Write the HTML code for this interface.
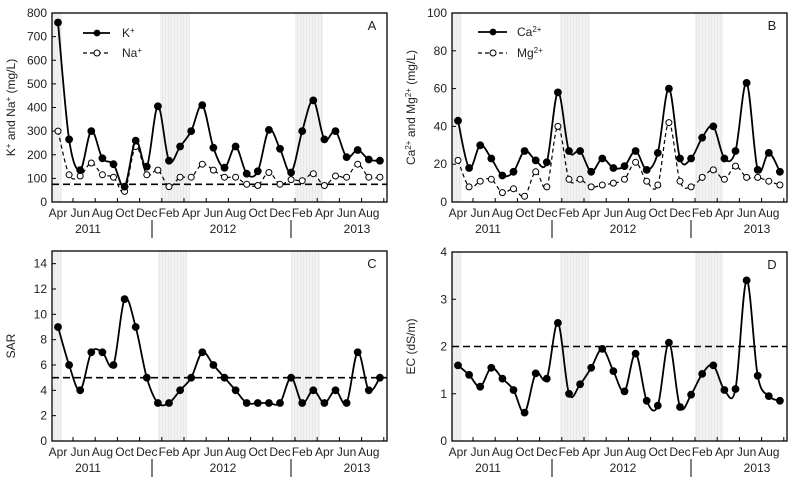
<!DOCTYPE html>
<html><head><meta charset="utf-8"><style>
html,body{margin:0;padding:0;background:#fff;}
svg{display:block;font-family:"Liberation Sans",Arial,sans-serif;}
</style></head><body>
<svg id="s" width="800" height="483" viewBox="0 0 800 483" xmlns="http://www.w3.org/2000/svg">
<defs>
<pattern id="st" width="3" height="10" patternUnits="userSpaceOnUse">
<rect width="3" height="10" fill="#f2f2f2"/><rect width="1" height="10" fill="#e8e8e8"/>
</pattern>
</defs>
</svg>
<script>
var s=document.getElementById('s');var h='';
function L(x1,y1,x2,y2,w,d){h+='<line x1="'+x1+'" y1="'+y1+'" x2="'+x2+'" y2="'+y2+'" stroke="#000" stroke-width="'+(w||1)+'"'+(d?' stroke-dasharray="'+d+'"':'')+'/>';}
function T(x,y,t,a,fs,extra){h+='<text x="'+x+'" y="'+y+'" font-size="'+(fs||12)+'" text-anchor="'+(a||'middle')+'" fill="#222" '+(extra||'')+'>'+t+'</text>';}
function cr(p){var d='M'+p[0][0]+','+p[0][1];for(var i=0;i<p.length-1;i++){var p0=p[i-1]||p[i],p1=p[i],p2=p[i+1],p3=p[i+2]||p2;var t=6;d+=' C'+(p1[0]+(p2[0]-p0[0])/t).toFixed(1)+','+(p1[1]+(p2[1]-p0[1])/t).toFixed(1)+' '+(p2[0]-(p3[0]-p1[0])/t).toFixed(1)+','+(p2[1]-(p3[1]-p1[1])/t).toFixed(1)+' '+p2[0]+','+p2[1];}return d;}
var months=['Apr','Jun','Aug','Oct','Dec','Feb','Apr','Jun','Aug','Oct','Dec','Feb','Apr','Jun','Aug'];
function panel(ox,top,bot,max,step,letter,ylab,series,bands,ref){
 var x0=ox+52,x1=ox+387;
 function Y(v){return bot-(v/max)*(bot-top);}
 function X(i){return ox+58+i*11.1;}
 bands.forEach(function(b){h+='<rect x="'+(ox+b[0])+'" y="'+top+'" width="'+(b[1]-b[0])+'" height="'+(bot-top)+'" fill="url(#st)"/>';});
 for(var v=0;v<=max+1e-9;v+=step){var y=Y(v);L(x0,y,x0+4,y);T(x0-5,y+4,+v.toFixed(0),'end',12);}
 for(var k=0;k<15;k++){var tx=ox+73+k*22.2;if(tx<x1)L(tx,bot,tx,bot-4);}
 months.forEach(function(m,k){T(ox+58+k*22.2,bot+15,m,'middle',12);});
 T(ox+88,bot+31,'2011');T(ox+223,bot+31,'2012');T(ox+357,bot+31,'2013');
 L(ox+152,bot+18,ox+152,bot+36);L(ox+291,bot+18,ox+291,bot+36);
 if(ref!=null)L(x0,Y(ref),x1,Y(ref),1.6,'7,4');
 series.forEach(function(se){var p=se.d.map(function(v,i){return [+X(i).toFixed(1),+Y(v).toFixed(1)];});
  h+='<path d="'+cr(p)+'" fill="none" stroke="#000" stroke-width="'+(se.open?1.2:1.8)+'"'+(se.open?' stroke-dasharray="4,3"':'')+'/>';
  p.forEach(function(q){h+='<circle cx="'+q[0]+'" cy="'+q[1]+'" r="'+(se.open?3:3.4)+'" fill="'+(se.open?'#fff':'#000')+'" stroke="#000" stroke-width="1"/>';});});
 h+='<rect x="'+x0+'" y="'+top+'" width="'+(x1-x0)+'" height="'+(bot-top)+'" fill="none" stroke="#000" stroke-width="1.3"/>';
 T(ox+372,top+17,letter,'middle',13);
 var cy=(top+bot)/2;h+='<text x="'+(ox+15)+'" y="'+cy+'" font-size="12" text-anchor="middle" fill="#222" transform="rotate(-90 '+(ox+15)+' '+cy+')">'+ylab+'</text>';
}
var K=[760,265,135,300,185,160,65,260,150,405,175,235,300,410,230,145,235,120,130,305,225,125,300,430,265,300,190,220,180,175];
var Na=[300,115,110,165,115,105,45,235,115,135,65,105,105,160,135,105,105,75,70,125,75,95,90,120,70,110,105,160,105,105];
var Ca=[43,18,30,23,14,16,27,22,21,58,27,27,16,23,18,19,27,17,26,60,23,23,34,40,23,27,63,17,26,16];
var Mg=[22,8,11,12,5,7,3,16,8,40,12,12,8,9,10,12,21,11,9,42,11,8,13,17,12,19,13,13,11,9];
var SAR=[9,6,4,7,7,6,11.2,9,5,3,3,4,5,7,6,5,4,3,3,3,3,5,3,4,3,4,3,7,4,5];
var EC=[1.6,1.4,1.15,1.55,1.32,1.08,0.6,1.43,1.32,2.5,1.0,1.2,1.55,1.95,1.48,1.05,1.85,0.85,0.75,2.08,0.72,0.98,1.42,1.6,1.08,1.1,3.4,1.38,0.95,0.85];
var bandsT=[[53,62],[160,190],[295,323]];
panel(0,13,202,800,100,'A','K<tspan font-size="8" dy="-4">+</tspan><tspan dy="4"> and Na</tspan><tspan font-size="8" dy="-4">+</tspan><tspan dy="4"> (mg/L)</tspan>',[{d:Na,open:1},{d:K}],bandsT,75);
panel(400,13,202,100,20,'B','Ca<tspan font-size="8" dy="-4">2+</tspan><tspan dy="4"> and Mg</tspan><tspan font-size="8" dy="-4">2+</tspan><tspan dy="4"> (mg/L)</tspan>',[{d:Mg,open:1},{d:Ca}],bandsT,null);
panel(0,251,441,15,2,'C','SAR',[{d:SAR}],[[53,62],[158,187],[291,320]],5);
panel(400,252,441,4,1,'D','EC (dS/m)',[{d:EC}],[[53,62],[160,189],[295,323]],2);
L(83,33,110,33,1.8);h+='<circle cx="97" cy="33" r="3.4"/>';T(122,37,'K<tspan font-size="8" dy="-4">+</tspan>','start',12);
L(83,53,110,53,1.2,'4,3');h+='<circle cx="97" cy="53" r="3" fill="#fff" stroke="#000"/>';T(122,57,'Na<tspan font-size="8" dy="-4">+</tspan>','start',12);
L(478,32,507,32,1.8);h+='<circle cx="493" cy="32" r="3.4"/>';T(517,36,'Ca<tspan font-size="8" dy="-4">2+</tspan>','start',12);
L(478,53,507,53,1.2,'4,3');h+='<circle cx="493" cy="53" r="3" fill="#fff" stroke="#000"/>';T(517,57,'Mg<tspan font-size="8" dy="-4">2+</tspan>','start',12);
s.insertAdjacentHTML('beforeend',h);
</script>
</body></html>
